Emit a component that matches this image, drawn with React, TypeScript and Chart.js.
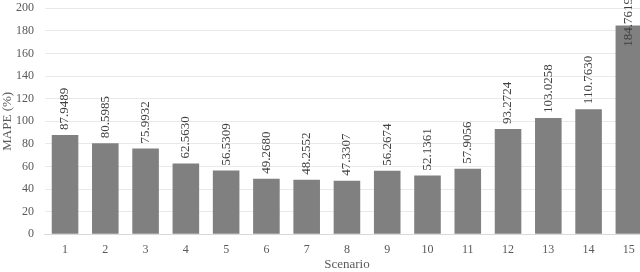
import React, { useEffect, useRef } from "react";
import { Chart, registerables } from "chart.js";

Chart.register(...registerables);

const categories = ["1", "2", "3", "4", "5", "6", "7", "8", "9", "10", "11", "12", "13", "14", "15"];
const mapeValues = [87.9489, 80.5985, 75.9932, 62.563, 56.5309, 49.268, 48.2552, 47.3307, 56.2674, 52.1361, 57.9056, 93.2724, 103.0258, 110.763, 184.7619];
const valueLabels = ["87.9489", "80.5985", "75.9932", "62.5630", "56.5309", "49.2680", "48.2552", "47.3307", "56.2674", "52.1361", "57.9056", "93.2724", "103.0258", "110.7630", "184.7619"];

const FONT = "'Liberation Serif', 'Times New Roman', serif";

const labelPlugin = {
  id: "rotLabels",
  afterDatasetsDraw(chart: any) {
    const ctx = chart.ctx;
    const meta = chart.getDatasetMeta(0);
    ctx.save();
    ctx.font = `13px ${FONT}`;
    ctx.fillStyle = "#404040";
    meta.data.forEach((el: any, i: number) => {
      const txt = valueLabels[i];
      const w = ctx.measureText(txt).width;
      let start = el.y - 5;
      if (start - w < -2) start = w - 2;
      ctx.save();
      ctx.translate(el.x, start);
      ctx.rotate(-Math.PI / 2);
      ctx.textAlign = "left";
      ctx.textBaseline = "middle";
      ctx.fillText(txt, 0, 0);
      ctx.restore();
    });
    ctx.restore();
  },
};

export default function App() {
  const ref = useRef<HTMLCanvasElement>(null);
  useEffect(() => {
    const canvas = ref.current!;
    const chart = new Chart(canvas, {
      type: "bar",
      data: {
        labels: categories,
        datasets: [
          {
            data: mapeValues,
            backgroundColor: "#808080",
            borderWidth: 0,
            barPercentage: 0.66,
            categoryPercentage: 1,
          },
        ],
      },
      options: {
        responsive: false,
        animation: false,
        layout: { padding: { top: 0, right: 1, left: 0, bottom: 0 } },
        plugins: { legend: { display: false }, tooltip: { enabled: false } },
        scales: {
          x: {
            grid: { display: false, drawTicks: false },
            border: { display: true, color: "#d9d9d9" },
            ticks: { color: "#595959", font: { family: FONT, size: 12 }, padding: 8, maxRotation: 0, autoSkip: false },
            title: { display: true, text: "Scenario", color: "#595959", font: { family: FONT, size: 13 }, padding: 0 },
            afterFit: (s: any) => {
              s.height = 37.7;
            },
          },
          y: {
            min: 0,
            max: 200,
            ticks: { stepSize: 20, color: "#595959", font: { family: FONT, size: 12 }, padding: 11 },
            grid: { color: "#e9e9e9", drawTicks: false },
            border: { display: false },
            title: { display: true, text: "MAPE (%)", color: "#595959", font: { family: FONT, size: 13 }, padding: 0 },
            afterFit: (s: any) => {
              s.width = 44.9;
              s.paddingTop = 8.3;
              s.paddingBottom = 0;
            },
          },
        },
      },
      plugins: [labelPlugin],
    });
    return () => chart.destroy();
  }, []);
  return (
    <div style={{ position: "fixed", left: 0, top: 0, width: 640, height: 272, overflow: "hidden", background: "#fff" }}>
      <canvas ref={ref} width={650} height={272} style={{ width: 650, height: 272, display: "block" }} />
    </div>
  );
}
